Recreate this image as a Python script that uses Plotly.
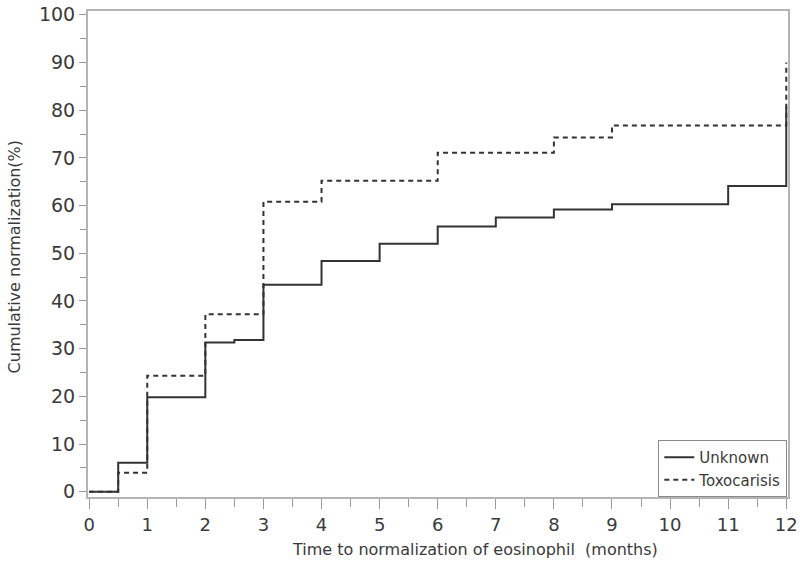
import plotly.graph_objects as go

# Kaplan-Meier style cumulative normalization curves (step functions)
unknown_months = [0, 0.5, 1, 2, 2.5, 3, 4, 5, 6, 7, 8, 9, 11, 12]
unknown_pct = [0, 6.1, 19.8, 31.3, 31.8, 43.4, 48.4, 52.0, 55.6, 57.5, 59.2, 60.3, 64.1, 80.8]

toxo_months = [0, 0.5, 1, 2, 3, 4, 6, 8, 9, 12]
toxo_pct = [0, 4.0, 24.3, 37.2, 60.8, 65.2, 71.1, 74.3, 76.8, 90.0]

x_ticks = list(range(0, 13))
y_ticks = list(range(0, 101, 10))

FONT = "DejaVu Sans, Liberation Sans, Arial, sans-serif"
TEXT_COLOR = "#3a3a3a"
LINE_COLOR = "#333333"
AXIS_COLOR = "#b4b4b4"
TICK_COLOR = "#9a9a9a"

fig = go.Figure()

fig.add_trace(go.Scatter(
    x=toxo_months,
    y=toxo_pct,
    mode='lines',
    line_shape='hv',
    name='Toxocarisis',
    legendrank=2,
    line=dict(color=LINE_COLOR, width=2, dash='5px,4px')
))

fig.add_trace(go.Scatter(
    x=unknown_months,
    y=unknown_pct,
    mode='lines',
    line_shape='hv',
    name='Unknown',
    legendrank=1,
    line=dict(color=LINE_COLOR, width=2)
))

fig.update_layout(
    width=800,
    height=569,
    paper_bgcolor='white',
    plot_bgcolor='white',
    margin=dict(l=88, r=12, t=11, b=72, autoexpand=False),
    font=dict(family=FONT, color=TEXT_COLOR),
    showlegend=True,
    legend=dict(
        x=0.999, y=0.0, xanchor='right', yanchor='bottom',
        bordercolor='#8a8a8a', borderwidth=1, bgcolor='white',
        font=dict(size=15, family=FONT, color=TEXT_COLOR),
        itemwidth=30,
        tracegroupgap=0
    ),
    xaxis=dict(
        range=[-0.02, 12.03],
        tickvals=x_ticks,
        automargin=False,
        ticks='outside', ticklen=10, tickcolor=TICK_COLOR, tickwidth=1,
        minor=dict(dtick=0.5, tick0=0, ticks='outside', ticklen=8, tickcolor=TICK_COLOR),
        showline=True, linecolor=AXIS_COLOR, linewidth=2, mirror=True,
        showgrid=False, zeroline=False,
        tickfont=dict(size=18, family=FONT, color=TEXT_COLOR),
    ),
    yaxis=dict(
        range=[-1.1, 100.8],
        tickvals=y_ticks,
        automargin=False,
        ticklabeloverflow='allow',
        ticks='outside', ticklen=7, tickcolor=TICK_COLOR, tickwidth=1,
        minor=dict(dtick=5, tick0=0, ticks='outside', ticklen=6, tickcolor=TICK_COLOR),
        showline=True, linecolor=AXIS_COLOR, linewidth=2, mirror=True,
        showgrid=False, zeroline=False,
        tickfont=dict(size=19, family=FONT, color=TEXT_COLOR),
    ),
    annotations=[
        dict(
            text='Time to normalization of eosinophil  (months)',
            xref='paper', yref='paper', x=0.553, y=-0.107,
            xanchor='center', yanchor='middle', showarrow=False,
            font=dict(size=16, family=FONT, color=TEXT_COLOR)
        ),
        dict(
            text='Cumulative normalization(%)',
            xref='paper', yref='paper', x=-0.105, y=0.494,
            xanchor='center', yanchor='middle', showarrow=False, textangle=-90,
            font=dict(size=16, family=FONT, color=TEXT_COLOR)
        ),
    ]
)

# drop the browser's default 8px body margin so the figure sits at the page corner
fig.write_html(
    "out.html",
    config={'displayModeBar': False},
    post_script="document.body.style.margin='0px';"
)
